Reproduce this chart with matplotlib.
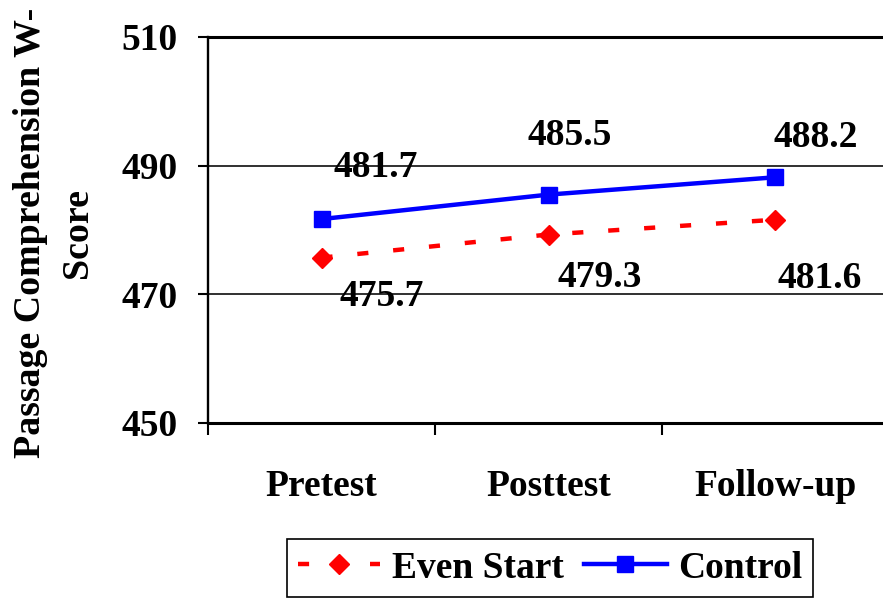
import matplotlib
matplotlib.use("Agg")
import matplotlib.pyplot as plt

# data
stages = ["Pretest", "Posttest", "Follow-up"]
even_start = [475.7, 479.3, 481.6]
control = [481.7, 485.5, 488.2]

# label offsets (points) for the value labels, as placed in the original
even_offsets = [(43, -35), (37, -38), (32, -49)]
control_offsets = [(39, 30), (15, 36), (29, 22)]

plt.rcParams['font.family'] = ['Liberation Serif', 'DejaVu Serif']
plt.rcParams['font.weight'] = 'bold'
FS = 27

fig = plt.figure(figsize=(8.83, 5.99), dpi=100)
ax = fig.add_axes([208 / 883, 176 / 599, 681 / 883, 386 / 599])

x = list(range(len(stages)))
ax.plot(x, even_start, color='#ff0000', lw=3.2, ls=(0, (2.5, 5.6)),
        marker='D', ms=9.8, mec='#ff0000', mfc='#ff0000', label='Even Start',
        zorder=3)
ax.plot(x, control, color='#0000ff', lw=3.2, marker='s', ms=12,
        mec='#0000ff', mfc='#0000ff', label='Control', zorder=3)

for xi, v, off in zip(x, even_start, even_offsets):
    ax.annotate(f"{v:.1f}", (xi, v), xytext=off, textcoords='offset points',
                ha='center', va='baseline', fontsize=FS, fontweight='bold')
for xi, v, off in zip(x, control, control_offsets):
    ax.annotate(f"{v:.1f}", (xi, v), xytext=off, textcoords='offset points',
                ha='center', va='baseline', fontsize=FS, fontweight='bold')

ax.set_xlim(-0.5, 2.5)
ax.set_ylim(450, 510)
ax.set_yticks([450, 470, 490, 510])
ax.yaxis.grid(True, color='#303030', lw=1.4)
ax.set_axisbelow(True)

ax.set_xticks(x, stages)
ax.set_xticks([-0.5, 0.5, 1.5, 2.5], minor=True)
ax.tick_params(axis='x', which='major', length=0, pad=33, labelsize=FS)
ax.tick_params(axis='x', which='minor', length=8.6, width=1.5, direction='out')
ax.tick_params(axis='y', length=7.2, width=1.5, direction='out', pad=15,
               labelsize=FS)
for lab in ax.get_xticklabels() + ax.get_yticklabels():
    lab.set_fontweight('bold')

ax.spines['right'].set_visible(False)
ax.spines['top'].set_linewidth(2.2)
ax.spines['bottom'].set_linewidth(2.2)
ax.spines['left'].set_linewidth(1.7)

fig.text(54 / 883, 1 - 233 / 599, "Passage Comprehension W-\nScore",
         rotation=90, ha='center', va='center', multialignment='center',
         fontsize=27.3, fontweight='bold', linespacing=1.46)

leg = fig.legend(loc='center', bbox_to_anchor=(550 / 883, 1 - 568 / 599),
                 ncol=2, fontsize=FS, frameon=True, fancybox=False,
                 edgecolor='black', framealpha=1, handlelength=2.2,
                 handletextpad=0.3, columnspacing=0.55, borderpad=0.3,
                 numpoints=1)
leg.get_frame().set_linewidth(1.2)
for t in leg.get_texts():
    t.set_fontweight('bold')

fig.savefig("out.png", dpi=100)
